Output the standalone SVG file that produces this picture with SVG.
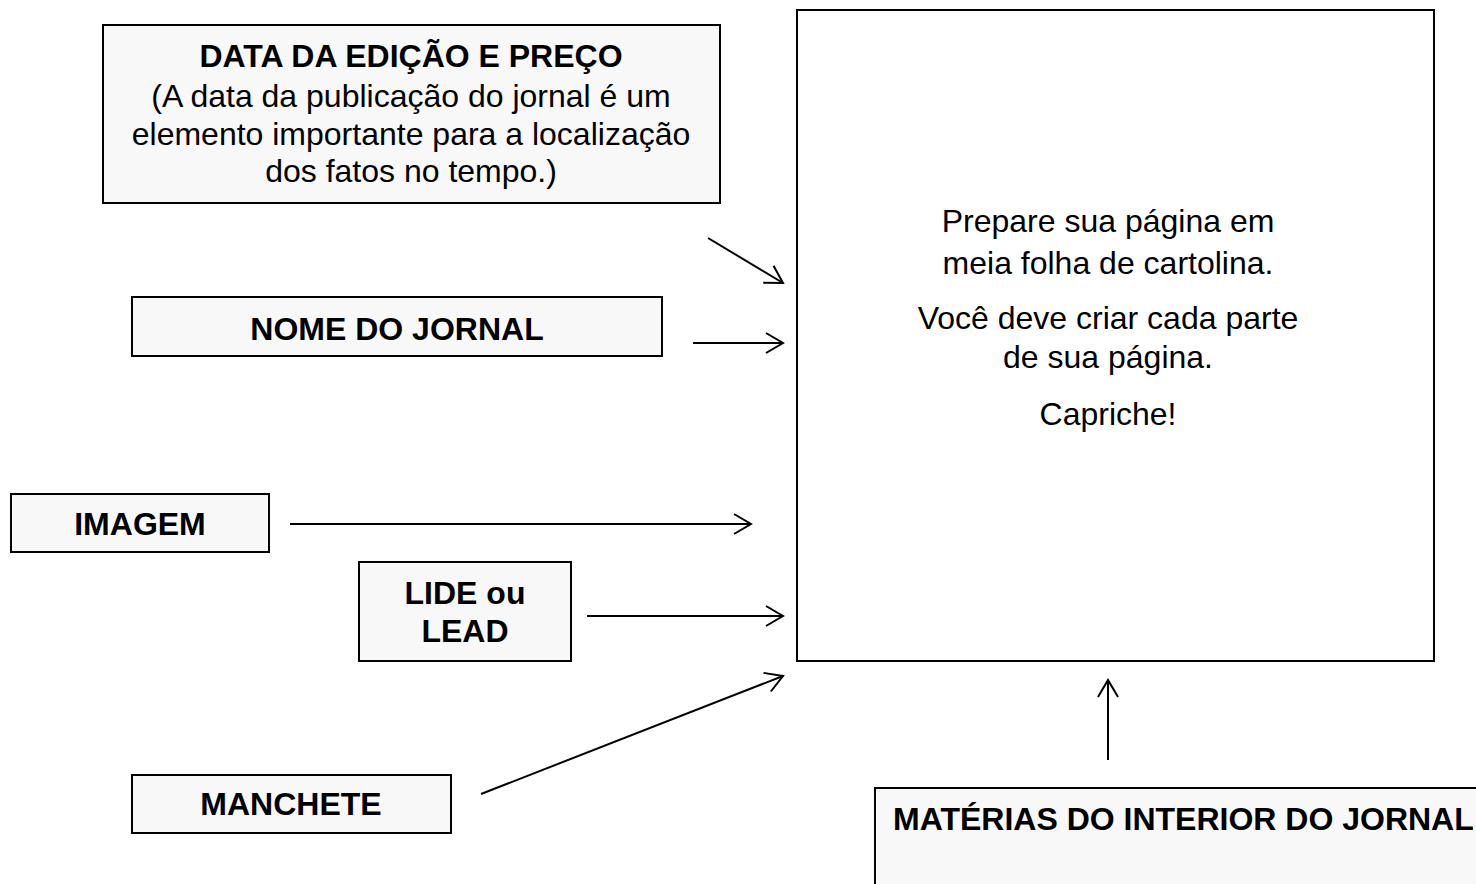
<svg xmlns="http://www.w3.org/2000/svg" width="1476" height="884" viewBox="0 0 1476 884">
<style>
.box{fill:#f8f8f8;stroke:#000;stroke-width:2}
.main{fill:#fff;stroke:#000;stroke-width:2}
.b{font-family:"Liberation Sans",Arial,sans-serif;font-weight:bold;font-size:32px;fill:#000;text-anchor:middle}
.t{font-family:"Liberation Sans",Arial,sans-serif;font-size:32px;fill:#000;text-anchor:middle}
.c{fill:none;stroke:#000;stroke-width:2}
</style>
<defs>
<marker id="ah" markerUnits="userSpaceOnUse" markerWidth="24" markerHeight="24" refX="19" refY="11" orient="auto">
<path d="M2,1 L19,11 L2,21" fill="none" stroke="#000" stroke-width="2"/>
</marker>
</defs>
<rect width="1476" height="884" fill="#fff"/>
<g id="main">
<rect class="main" x="797" y="10" width="637" height="651"/>
<text class="t" x="1108" y="232">Prepare sua página em</text>
<text class="t" x="1108" y="274">meia folha de cartolina.</text>
<text class="t" x="1108" y="329">Você deve criar cada parte</text>
<text class="t" x="1108" y="368">de sua página.</text>
<text class="t" x="1108" y="425">Capriche!</text>
</g>
<g id="data">
<rect class="box" x="103" y="25" width="617" height="178"/>
<text class="b" x="411" y="67">DATA DA EDIÇÃO E PREÇO</text>
<text class="t" x="411" y="107">(A data da publicação do jornal é um</text>
<text class="t" x="411" y="145">elemento importante para a localização</text>
<text class="t" x="411" y="182">dos fatos no tempo.)</text>
</g>
<g id="nome">
<rect class="box" x="132" y="297" width="530" height="59"/>
<text class="b" x="397" y="340">NOME DO JORNAL</text>
</g>
<g id="imagem">
<rect class="box" x="11" y="494" width="258" height="58"/>
<text class="b" x="140" y="535">IMAGEM</text>
</g>
<g id="lide">
<rect class="box" x="359" y="562" width="212" height="99"/>
<text class="b" x="465" y="604">LIDE ou</text>
<text class="b" x="465" y="642">LEAD</text>
</g>
<g id="manchete">
<rect class="box" x="132" y="775" width="319" height="58"/>
<text class="b" x="291" y="815">MANCHETE</text>
</g>
<g id="materias">
<rect class="box" x="875" y="788" width="610" height="110"/>
<text class="b" x="893" y="830" style="text-anchor:start">MATÉRIAS DO INTERIOR DO JORNAL</text>
</g>
<g id="connectors">
<line class="c" x1="708" y1="238" x2="783" y2="283" marker-end="url(#ah)"/>
<line class="c" x1="693" y1="343" x2="783" y2="343" marker-end="url(#ah)"/>
<line class="c" x1="290" y1="524" x2="751" y2="524" marker-end="url(#ah)"/>
<line class="c" x1="587" y1="616" x2="783" y2="616" marker-end="url(#ah)"/>
<line class="c" x1="481" y1="794" x2="783" y2="676" marker-end="url(#ah)"/>
<line class="c" x1="1108" y1="760" x2="1108" y2="680" marker-end="url(#ah)"/>
</g>
</svg>
